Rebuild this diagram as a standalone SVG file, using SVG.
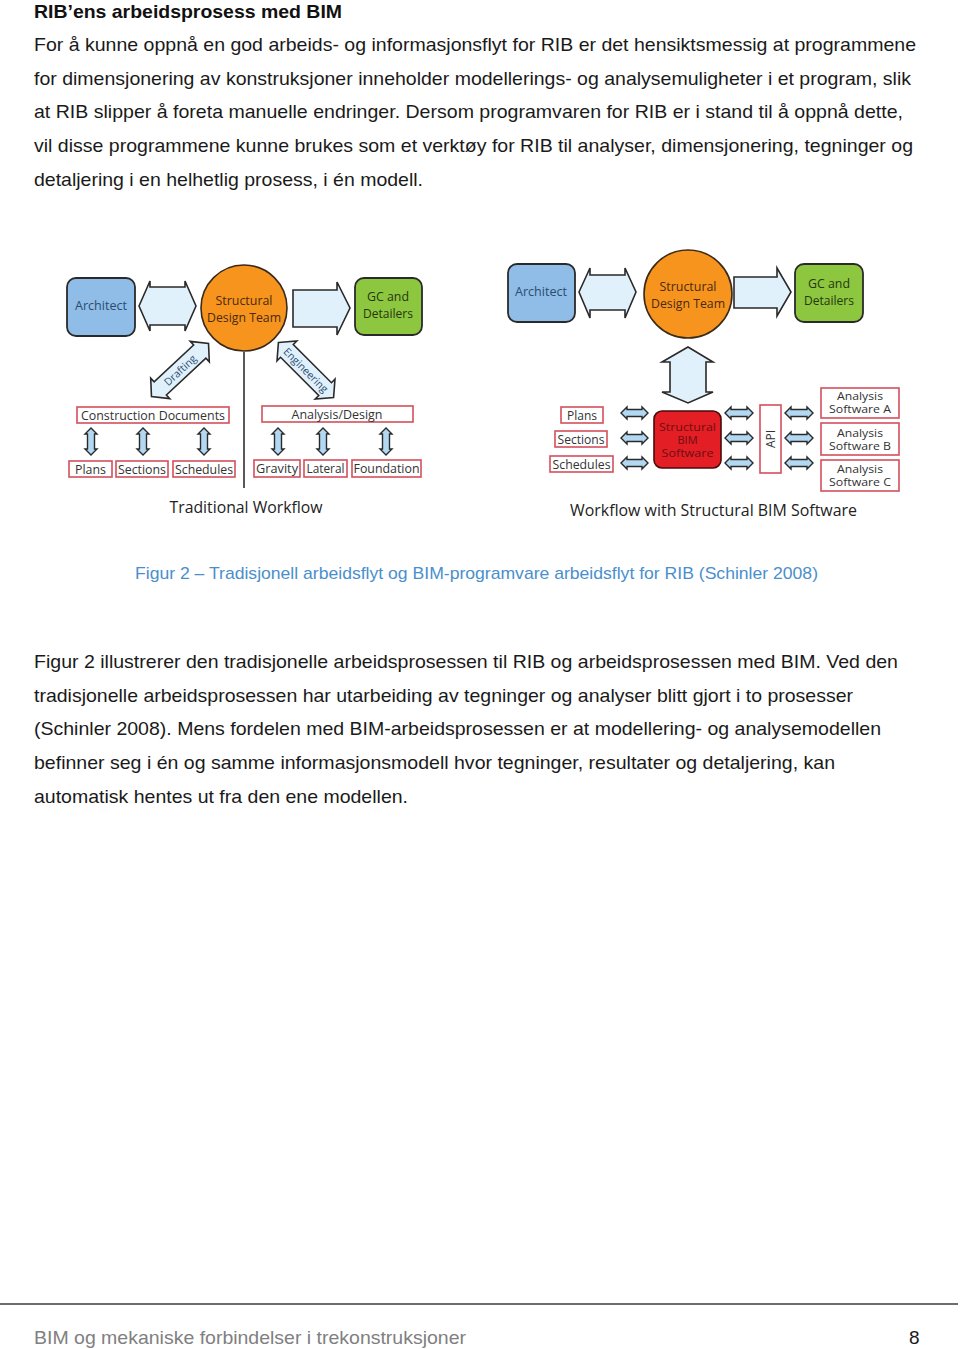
<svg xmlns="http://www.w3.org/2000/svg" width="960" height="1349" viewBox="0 0 960 1349">
<defs>
<style>
.body{font-family:"Liberation Sans",Arial,sans-serif;font-size:19px;fill:#1a1a1a}
.head{font-family:"Liberation Sans",Arial,sans-serif;font-size:19px;font-weight:bold;fill:#111}
.cap{font-family:"Liberation Sans",Arial,sans-serif;font-size:17px;fill:#4a8fcc}
.foot{font-family:"Liberation Sans",Arial,sans-serif;font-size:19px;fill:#808080}
.lbl{font-family:"Open Sans","Liberation Sans",sans-serif;text-anchor:middle}
.big{fill:#e1f1fc;stroke:#2a2a2a;stroke-width:1.6;stroke-linejoin:miter}
.small{fill:#b3d9f2;stroke:#2a2a2a;stroke-width:1.4}
.rbox{fill:#fff;stroke:#d44f5c;stroke-width:1.6}
.rtxt{font-size:12px;fill:#333}
.atxt{font-size:11px;fill:#333}
.arch{fill:#8fbde7;stroke:#2a2a2a;stroke-width:1.8}
.gc{fill:#8dc63f;stroke:#2a2a2a;stroke-width:1.8}
.sdt{fill:#f7941e;stroke:#3a2a1a;stroke-width:1.6}
</style>
</defs>
<rect width="960" height="1349" fill="#fff"/>

<!-- Page text -->
<text class="head" x="34" y="18" textLength="308" lengthAdjust="spacingAndGlyphs">RIB’ens arbeidsprosess med BIM</text>
<text class="body" x="34" y="51" textLength="882" lengthAdjust="spacingAndGlyphs">For å kunne oppnå en god arbeids- og informasjonsflyt for RIB er det hensiktsmessig at programmene</text>
<text class="body" x="34" y="85" textLength="877" lengthAdjust="spacingAndGlyphs">for dimensjonering av konstruksjoner inneholder modellerings- og analysemuligheter i et program, slik</text>
<text class="body" x="34" y="118" textLength="869" lengthAdjust="spacingAndGlyphs">at RIB slipper å foreta manuelle endringer. Dersom programvaren for RIB er i stand til å oppnå dette,</text>
<text class="body" x="34" y="152" textLength="879" lengthAdjust="spacingAndGlyphs">vil disse programmene kunne brukes som et verktøy for RIB til analyser, dimensjonering, tegninger og</text>
<text class="body" x="34" y="186" textLength="389" lengthAdjust="spacingAndGlyphs">detaljering i en helhetlig prosess, i én modell.</text>

<text class="cap" x="135" y="579" textLength="683" lengthAdjust="spacingAndGlyphs">Figur 2 – Tradisjonell arbeidsflyt og BIM-programvare arbeidsflyt for RIB (Schinler 2008)</text>

<text class="body" x="34" y="668" textLength="864" lengthAdjust="spacingAndGlyphs">Figur 2 illustrerer den tradisjonelle arbeidsprosessen til RIB og arbeidsprosessen med BIM. Ved den</text>
<text class="body" x="34" y="702" textLength="819" lengthAdjust="spacingAndGlyphs">tradisjonelle arbeidsprosessen har utarbeiding av tegninger og analyser blitt gjort i to prosesser</text>
<text class="body" x="34" y="735" textLength="847" lengthAdjust="spacingAndGlyphs">(Schinler 2008). Mens fordelen med BIM-arbeidsprosessen er at modellering- og analysemodellen</text>
<text class="body" x="34" y="769" textLength="801" lengthAdjust="spacingAndGlyphs">befinner seg i én og samme informasjonsmodell hvor tegninger, resultater og detaljering, kan</text>
<text class="body" x="34" y="803" textLength="374" lengthAdjust="spacingAndGlyphs">automatisk hentes ut fra den ene modellen.</text>

<line x1="0" y1="1304" x2="958" y2="1304" stroke="#6d6d6d" stroke-width="2"/>
<text class="foot" x="34" y="1344" textLength="432" lengthAdjust="spacingAndGlyphs">BIM og mekaniske forbindelser i trekonstruksjoner</text>
<text class="body" x="909" y="1344" font-size="18">8</text>

<!-- Connectors -->
<g id="connectors">
  <!-- Left diagram -->
  <path class="big" d="M139,306 L150,281 L150,287 L185,287 L185,281 L196,306 L185,331 L185,325 L150,325 L150,331 Z"/>
  <path class="big" d="M293,290 L337,290 L337,282 L350,308 L337,335 L337,327 L293,327 Z"/>
  <line x1="244" y1="352" x2="244" y2="488" stroke="#222" stroke-width="1.5"/>
  <g transform="translate(180,370) rotate(-43)">
    <path class="big" d="M-39,0 L-27,-14 L-27,-9 L27,-9 L27,-14 L39,0 L27,14 L27,9 L-27,9 L-27,14 Z"/>
    <text class="lbl" x="0" y="4" font-size="10.5" fill="#2b4c6f">Drafting</text>
  </g>
  <g transform="translate(306,370) rotate(45)">
    <path class="big" d="M-39,0 L-27,-14 L-27,-9 L27,-9 L27,-14 L39,0 L27,14 L27,9 L-27,9 L-27,14 Z"/>
    <text class="lbl" x="0" y="4" font-size="10.5" fill="#2b4c6f">Engineering</text>
  </g>
  <g id="vsmall">
    <path class="small" d="M91,428 L97,434 L94.5,434 L94.5,449 L97,449 L91,455 L85,449 L87.5,449 L87.5,434 L85,434 Z"/>
    <path class="small" d="M143,428 L149,434 L146.5,434 L146.5,449 L149,449 L143,455 L137,449 L139.5,449 L139.5,434 L137,434 Z"/>
    <path class="small" d="M204,428 L210,434 L207.5,434 L207.5,449 L210,449 L204,455 L198,449 L200.5,449 L200.5,434 L198,434 Z"/>
    <path class="small" d="M278,428 L284,434 L281.5,434 L281.5,449 L284,449 L278,455 L272,449 L274.5,449 L274.5,434 L272,434 Z"/>
    <path class="small" d="M323,428 L329,434 L326.5,434 L326.5,449 L329,449 L323,455 L317,449 L319.5,449 L319.5,434 L317,434 Z"/>
    <path class="small" d="M386,428 L392,434 L389.5,434 L389.5,449 L392,449 L386,455 L380,449 L382.5,449 L382.5,434 L380,434 Z"/>
  </g>

  <!-- Right diagram -->
  <path class="big" d="M579,292 L590,268 L590,275 L625,275 L625,268 L636,292 L625,318 L625,310 L590,310 L590,318 Z"/>
  <path class="big" d="M734,277 L777,277 L777,268 L791,292 L777,316 L777,308 L734,308 Z"/>
  <path class="big" d="M688,347 L713,362 L706,362 L706,392 L713,392 L688,403 L662,392 L670,392 L670,362 L662,362 Z"/>
  <g id="hsmall">
    <path class="small" d="M621,413 L627,407 L627,409.5 L642,409.5 L642,407 L648,413 L642,419 L642,416.5 L627,416.5 L627,419 Z"/>
    <path class="small" d="M621,438 L627,432 L627,434.5 L642,434.5 L642,432 L648,438 L642,444 L642,441.5 L627,441.5 L627,444 Z"/>
    <path class="small" d="M621,463 L627,457 L627,459.5 L642,459.5 L642,457 L648,463 L642,469 L642,466.5 L627,466.5 L627,469 Z"/>
    <path class="small" d="M725,413 L731,407 L731,409.5 L747,409.5 L747,407 L753,413 L747,419 L747,416.5 L731,416.5 L731,419 Z"/>
    <path class="small" d="M725,438 L731,432 L731,434.5 L747,434.5 L747,432 L753,438 L747,444 L747,441.5 L731,441.5 L731,444 Z"/>
    <path class="small" d="M725,463 L731,457 L731,459.5 L747,459.5 L747,457 L753,463 L747,469 L747,466.5 L731,466.5 L731,469 Z"/>
    <path class="small" d="M785,413 L791,407 L791,409.5 L807,409.5 L807,407 L813,413 L807,419 L807,416.5 L791,416.5 L791,419 Z"/>
    <path class="small" d="M785,438 L791,432 L791,434.5 L807,434.5 L807,432 L813,438 L807,444 L807,441.5 L791,441.5 L791,444 Z"/>
    <path class="small" d="M785,463 L791,457 L791,459.5 L807,459.5 L807,457 L813,463 L807,469 L807,466.5 L791,466.5 L791,469 Z"/>
  </g>
</g>

<!-- Left diagram nodes -->
<g id="l-architect">
  <rect class="arch" x="67" y="278" width="68" height="58" rx="9"/>
  <text class="lbl" x="101" y="310" font-size="13" fill="#2b4c6f" textLength="52" lengthAdjust="spacingAndGlyphs">Architect</text>
</g>
<g id="l-sdt">
  <circle class="sdt" cx="244" cy="308" r="43"/>
  <text class="lbl" x="244" y="305" font-size="12.5" fill="#4a2a10" textLength="57" lengthAdjust="spacingAndGlyphs">Structural</text>
  <text class="lbl" x="244" y="322" font-size="12.5" fill="#4a2a10" textLength="74" lengthAdjust="spacingAndGlyphs">Design Team</text>
</g>
<g id="l-gc">
  <rect class="gc" x="355" y="278" width="67" height="57" rx="9"/>
  <text class="lbl" x="388" y="301" font-size="13" fill="#26370f" textLength="42" lengthAdjust="spacingAndGlyphs">GC and</text>
  <text class="lbl" x="388" y="318" font-size="13" fill="#26370f" textLength="50" lengthAdjust="spacingAndGlyphs">Detailers</text>
</g>
<g id="l-cd">
  <rect class="rbox" x="77" y="407" width="152" height="16"/>
  <text class="lbl rtxt" x="153" y="419.5" textLength="144" lengthAdjust="spacingAndGlyphs">Construction Documents</text>
</g>
<g id="l-ad">
  <rect class="rbox" x="262" y="406" width="151" height="16"/>
  <text class="lbl rtxt" x="337" y="418.5" textLength="91" lengthAdjust="spacingAndGlyphs">Analysis/Design</text>
</g>
<g id="l-plans">
  <rect class="rbox" x="69" y="461" width="43" height="16"/>
  <text class="lbl rtxt" x="90.5" y="473.5" textLength="31" lengthAdjust="spacingAndGlyphs">Plans</text>
</g>
<g id="l-sections">
  <rect class="rbox" x="116" y="461" width="52" height="16"/>
  <text class="lbl rtxt" x="142" y="473.5" textLength="48" lengthAdjust="spacingAndGlyphs">Sections</text>
</g>
<g id="l-schedules">
  <rect class="rbox" x="173" y="461" width="62" height="16"/>
  <text class="lbl rtxt" x="204" y="473.5" textLength="58" lengthAdjust="spacingAndGlyphs">Schedules</text>
</g>
<g id="l-gravity">
  <rect class="rbox" x="254" y="460" width="46" height="17"/>
  <text class="lbl rtxt" x="277" y="473" textLength="42" lengthAdjust="spacingAndGlyphs">Gravity</text>
</g>
<g id="l-lateral">
  <rect class="rbox" x="304" y="460" width="43" height="17"/>
  <text class="lbl rtxt" x="325.5" y="473" textLength="38" lengthAdjust="spacingAndGlyphs">Lateral</text>
</g>
<g id="l-foundation">
  <rect class="rbox" x="352" y="460" width="69" height="17"/>
  <text class="lbl rtxt" x="386.5" y="473" textLength="66" lengthAdjust="spacingAndGlyphs">Foundation</text>
</g>
<text class="lbl" x="246" y="513" font-size="16.5" fill="#222" textLength="153" lengthAdjust="spacingAndGlyphs">Traditional Workflow</text>

<!-- Right diagram nodes -->
<g id="r-architect">
  <rect class="arch" x="508" y="264" width="67" height="58" rx="9"/>
  <text class="lbl" x="541" y="296" font-size="13" fill="#2b4c6f" textLength="52" lengthAdjust="spacingAndGlyphs">Architect</text>
</g>
<g id="r-sdt">
  <circle class="sdt" cx="688" cy="294" r="44"/>
  <text class="lbl" x="688" y="291" font-size="12.5" fill="#4a2a10" textLength="57" lengthAdjust="spacingAndGlyphs">Structural</text>
  <text class="lbl" x="688" y="308" font-size="12.5" fill="#4a2a10" textLength="74" lengthAdjust="spacingAndGlyphs">Design Team</text>
</g>
<g id="r-gc">
  <rect class="gc" x="795" y="264" width="68" height="58" rx="9"/>
  <text class="lbl" x="829" y="288" font-size="13" fill="#26370f" textLength="42" lengthAdjust="spacingAndGlyphs">GC and</text>
  <text class="lbl" x="829" y="305" font-size="13" fill="#26370f" textLength="50" lengthAdjust="spacingAndGlyphs">Detailers</text>
</g>
<g id="r-bim">
  <rect x="654" y="411" width="67" height="57" rx="8" fill="#e31e25" stroke="#4a0b0b" stroke-width="1.6"/>
  <text class="lbl" x="687.5" y="431" font-size="11" fill="#6e0f12" textLength="57" lengthAdjust="spacingAndGlyphs">Structural</text>
  <text class="lbl" x="687.5" y="444" font-size="11" fill="#6e0f12">BIM</text>
  <text class="lbl" x="687.5" y="457" font-size="11" fill="#6e0f12" textLength="52" lengthAdjust="spacingAndGlyphs">Software</text>
</g>
<g id="r-plans">
  <rect class="rbox" x="561" y="407" width="42" height="16"/>
  <text class="lbl rtxt" x="582" y="419.5" textLength="30" lengthAdjust="spacingAndGlyphs">Plans</text>
</g>
<g id="r-sections">
  <rect class="rbox" x="555" y="431" width="52" height="16"/>
  <text class="lbl rtxt" x="581" y="443.5" textLength="47" lengthAdjust="spacingAndGlyphs">Sections</text>
</g>
<g id="r-schedules">
  <rect class="rbox" x="550" y="456" width="63" height="16"/>
  <text class="lbl rtxt" x="581.5" y="468.5" textLength="58" lengthAdjust="spacingAndGlyphs">Schedules</text>
</g>
<g id="r-api">
  <rect class="rbox" x="760" y="405" width="21" height="68"/>
  <text class="lbl rtxt" transform="translate(774.5,439) rotate(-90)" x="0" y="0">API</text>
</g>
<g id="r-asa">
  <rect class="rbox" x="821" y="388" width="78" height="30"/>
  <text class="lbl atxt" x="860" y="400" textLength="46" lengthAdjust="spacingAndGlyphs">Analysis</text>
  <text class="lbl atxt" x="860" y="413" textLength="62" lengthAdjust="spacingAndGlyphs">Software A</text>
</g>
<g id="r-asb">
  <rect class="rbox" x="821" y="423" width="78" height="32"/>
  <text class="lbl atxt" x="860" y="437" textLength="46" lengthAdjust="spacingAndGlyphs">Analysis</text>
  <text class="lbl atxt" x="860" y="450" textLength="62" lengthAdjust="spacingAndGlyphs">Software B</text>
</g>
<g id="r-asc">
  <rect class="rbox" x="821" y="460" width="78" height="31"/>
  <text class="lbl atxt" x="860" y="473" textLength="46" lengthAdjust="spacingAndGlyphs">Analysis</text>
  <text class="lbl atxt" x="860" y="486" textLength="62" lengthAdjust="spacingAndGlyphs">Software C</text>
</g>
<text class="lbl" x="713.5" y="516" font-size="16.5" fill="#222" textLength="287" lengthAdjust="spacingAndGlyphs">Workflow with Structural BIM Software</text>
</svg>
